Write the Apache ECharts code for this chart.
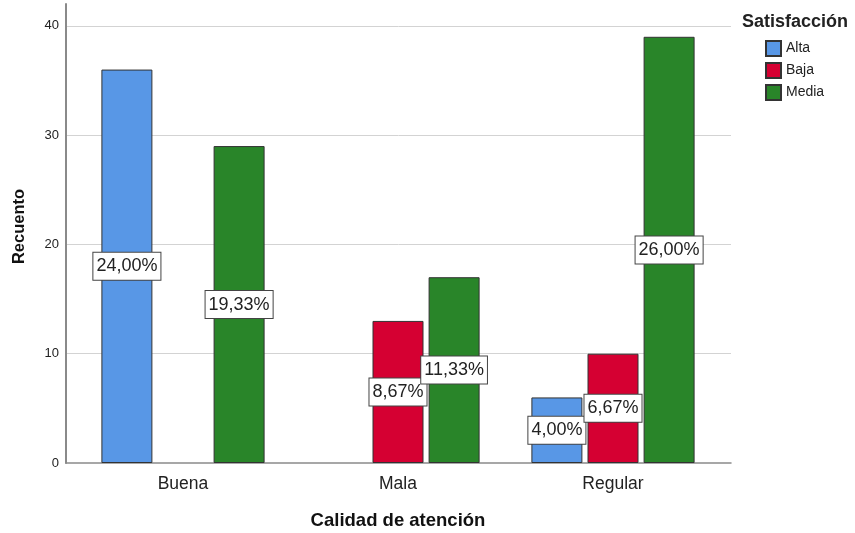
<!DOCTYPE html>
<html>
<head>
<meta charset="utf-8">
<script src="https://cdn.jsdelivr.net/npm/echarts@6/dist/echarts.min.js"></script>
<style>
html,body{margin:0;padding:0;background:#fff;}
#c{width:855px;height:533px;}
</style>
</head>
<body>
<div id="c"></div>
<script>
var categories = ['Buena', 'Mala', 'Regular'];
var seriesNames = ['Alta', 'Baja', 'Media'];
var alta = [36, null, 6];
var baja = [null, 13, 10];
var media = [29, 17, 39];
var yTicks = [0, 10, 20, 30, 40];

var colors = ['#5897e6', '#d50032', '#298529'];
var allVals = alta.concat(baja, media).filter(function (v) { return v != null; });
var total = allVals.reduce(function (a, b) { return a + b; }, 0);

var FONT = 'Liberation Sans, Arial, sans-serif';

function pct(p) {
  return (p.value / total * 100).toFixed(2).replace('.', ',') + '%';
}

function mkSeries(name, data, color) {
  return {
    name: name,
    type: 'bar',
    xAxisIndex: 1,
    yAxisIndex: 1,
    data: data,
    barWidth: 51,
    barGap: '10%',
    itemStyle: { color: color, borderColor: '#333', borderWidth: 1 },
    label: {
      show: true,
      position: 'inside',
      formatter: pct,
      fontFamily: FONT,
      fontSize: 18,
      lineHeight: 18,
      color: '#222',
      backgroundColor: '#fff',
      borderColor: '#444',
      borderWidth: 1,
      padding: [5, 3, 4, 3]
    },
    emphasis: { disabled: true }
  };
}

var chart = echarts.init(document.getElementById('c'), null, { renderer: 'canvas' });
chart.setOption({
  animation: false,
  backgroundColor: '#fff',
  title: {
    text: 'Satisfacción',
    left: 737,
    top: 8,
    textStyle: { fontFamily: FONT, fontSize: 18, fontWeight: 'bold', color: '#222' }
  },
  legend: {
    data: seriesNames,
    left: 760,
    top: 35,
    orient: 'vertical',
    itemWidth: 15,
    itemHeight: 15,
    itemGap: 5,
    icon: 'rect',
    textStyle: { fontFamily: FONT, fontSize: 14, color: '#222' }
  },
  grid: [
    { left: 66, right: 124, top: 4, bottom: 70, containLabel: false, outerBoundsMode: 'none' },
    { left: 75.5, right: 134.5, top: 4, bottom: 70, containLabel: false, outerBoundsMode: 'none' }
  ],
  xAxis: [
    {
      gridIndex: 0,
      type: 'category',
      data: [''],
      axisLine: { show: true, lineStyle: { color: '#8a8a8a', width: 1.5 } },
      axisTick: { show: false },
      axisLabel: { show: false },
      splitLine: { show: false }
    },
    {
      gridIndex: 1,
      type: 'category',
      data: categories,
      axisLine: { show: false },
      axisTick: { show: false },
      axisLabel: { fontFamily: FONT, fontSize: 17.5, color: '#222', margin: 12 },
      name: 'Calidad de atención',
      nameLocation: 'middle',
      nameGap: 48,
      nameTextStyle: { fontFamily: FONT, fontSize: 18.5, fontWeight: 'bold', color: '#111' }
    }
  ],
  yAxis: [
    {
      gridIndex: 0,
      type: 'value',
      min: yTicks[0],
      max: 42,
      interval: 10,
      axisLine: { show: true, lineStyle: { color: '#8a8a8a', width: 2 } },
      axisTick: { show: false },
      axisLabel: {
        fontFamily: FONT, fontSize: 13, color: '#222', margin: 7, showMaxLabel: false,
        formatter: function (v) { return yTicks.indexOf(v) >= 0 ? String(v) : ''; }
      },
      splitLine: { show: true, showMaxLine: false, showMinLine: false, lineStyle: { color: '#d3d3d3', width: 1 } },
      name: 'Recuento',
      nameLocation: 'middle',
      nameGap: 38,
      nameTextStyle: { fontFamily: FONT, fontSize: 16.5, fontWeight: 'bold', color: '#111', padding: [0, 0, 0, 14] }
    },
    {
      gridIndex: 1,
      type: 'value',
      min: 0,
      max: 42,
      interval: 10,
      show: false,
      splitLine: { show: false }
    }
  ],
  series: [
    mkSeries(seriesNames[0], alta, colors[0]),
    mkSeries(seriesNames[1], baja, colors[1]),
    mkSeries(seriesNames[2], media, colors[2])
  ]
});
</script>
</body>
</html>
